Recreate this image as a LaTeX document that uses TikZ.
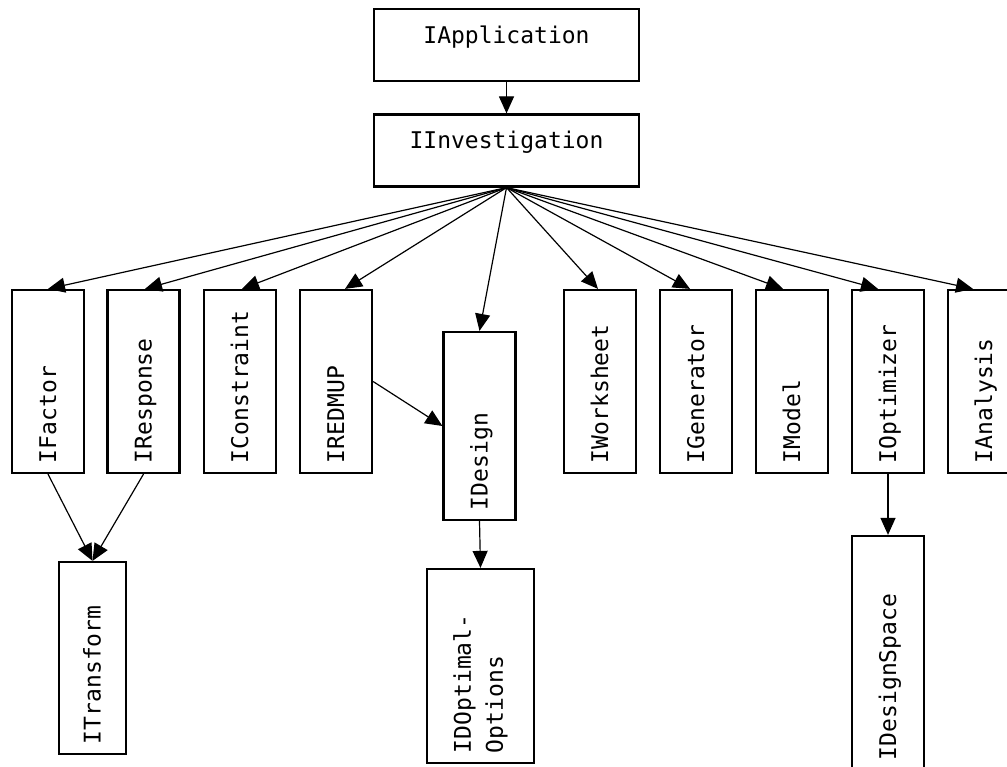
\documentclass[tikz,border=0pt]{standalone}
\usepackage{fontspec}
\setmonofont{DejaVu Sans Mono}
\usetikzlibrary{arrows.meta}
\begin{document}
\begin{tikzpicture}[x=1pt,y=-1pt,
  every node/.style={font=\ttfamily\fontsize{23}{32}\selectfont},
  boxline/.style={draw=black, line width=2.2pt},
  hbox/.style={boxline, minimum width=265pt, minimum height=72pt, text height=16pt, text depth=19pt, inner sep=0pt},
  vbase/.style={boxline, rotate=90, inner xsep=10pt, inner ysep=0pt, align=left},
  vbox/.style={vbase, text height=16pt, text depth=0pt},
  conn/.style={draw=black, line width=1.2pt, -{Triangle[length=17pt,width=15pt]}}]
\fill[white] (0,0) rectangle (1007,767);
\useasboundingbox (0,0) rectangle (1007,767);

\node[hbox] (iapp) at (506.5,45) {IApplication};
\node[hbox] (iinv) at (506.5,150.5) {IInvestigation};

\node[vbox, text width=163pt, minimum height=72pt] (ifactor) at (48,381.5) {IFactor};
\node[vbox, text width=163pt, minimum height=72pt] (iresponse) at (143.5,381.5) {IResponse};
\node[vbox, text width=163pt, minimum height=72pt] (iconstraint) at (240,381.5) {IConstraint};
\node[vbox, text width=163pt, minimum height=72pt] (iredmup) at (336,381.5) {IREDMUP};
\node[vbox, text width=168pt, minimum height=72pt] (idesign) at (479.5,426) {IDesign};
\node[vbox, text width=163pt, minimum height=72pt] (iworksheet) at (600,381.5) {IWorksheet};
\node[vbox, text width=163pt, minimum height=72pt] (igenerator) at (696,381.5) {IGenerator};
\node[vbox, text width=163pt, minimum height=72pt] (imodel) at (792,381.5) {IModel};
\node[vbox, text width=163pt, minimum height=72pt] (ioptimizer) at (888,381.5) {IOptimizer};
\node[vbox, text width=163pt, minimum height=72pt] (ianalysis) at (984,381.5) {IAnalysis};

\node[vbox, text width=172pt, minimum height=67pt] (itransform) at (92.5,658) {ITransform};
\node[vbase, text width=174pt, minimum height=107pt] (idopt) at (480.5,666) {IDOptimal-\\Options};
\node[vbox, text width=214pt, minimum height=72pt] (idspace) at (888,653) {IDesignSpace};

\draw[conn] (iapp.south) -- (iinv.north);

\draw[conn] (iinv.south) -- (ifactor.east);
\draw[conn] (iinv.south) -- ([xshift=1.5pt]iresponse.east);
\draw[conn] (iinv.south) -- ([xshift=2pt]iconstraint.east);
\draw[conn] (iinv.south) -- ([xshift=9pt]iredmup.east);
\draw[conn] (iinv.south) -- (idesign.east);
\draw[conn] (iinv.south) -- ([xshift=-2pt]iworksheet.east);
\draw[conn] (iinv.south) -- ([xshift=-6pt]igenerator.east);
\draw[conn] (iinv.south) -- ([xshift=-9pt]imodel.east);
\draw[conn] (iinv.south) -- ([xshift=-10pt]ioptimizer.east);
\draw[conn] (iinv.south) -- ([xshift=-11pt]ianalysis.east);

\draw[conn] (iredmup.south) -- (idesign.north);
\draw[conn] (idesign.west) -- (idopt.east);
\draw[conn] (ioptimizer.west) -- (idspace.east);
\draw[conn] (ifactor.west) -- (itransform.east);
\draw[conn] (iresponse.west) -- (itransform.east);
\end{tikzpicture}
\end{document}
